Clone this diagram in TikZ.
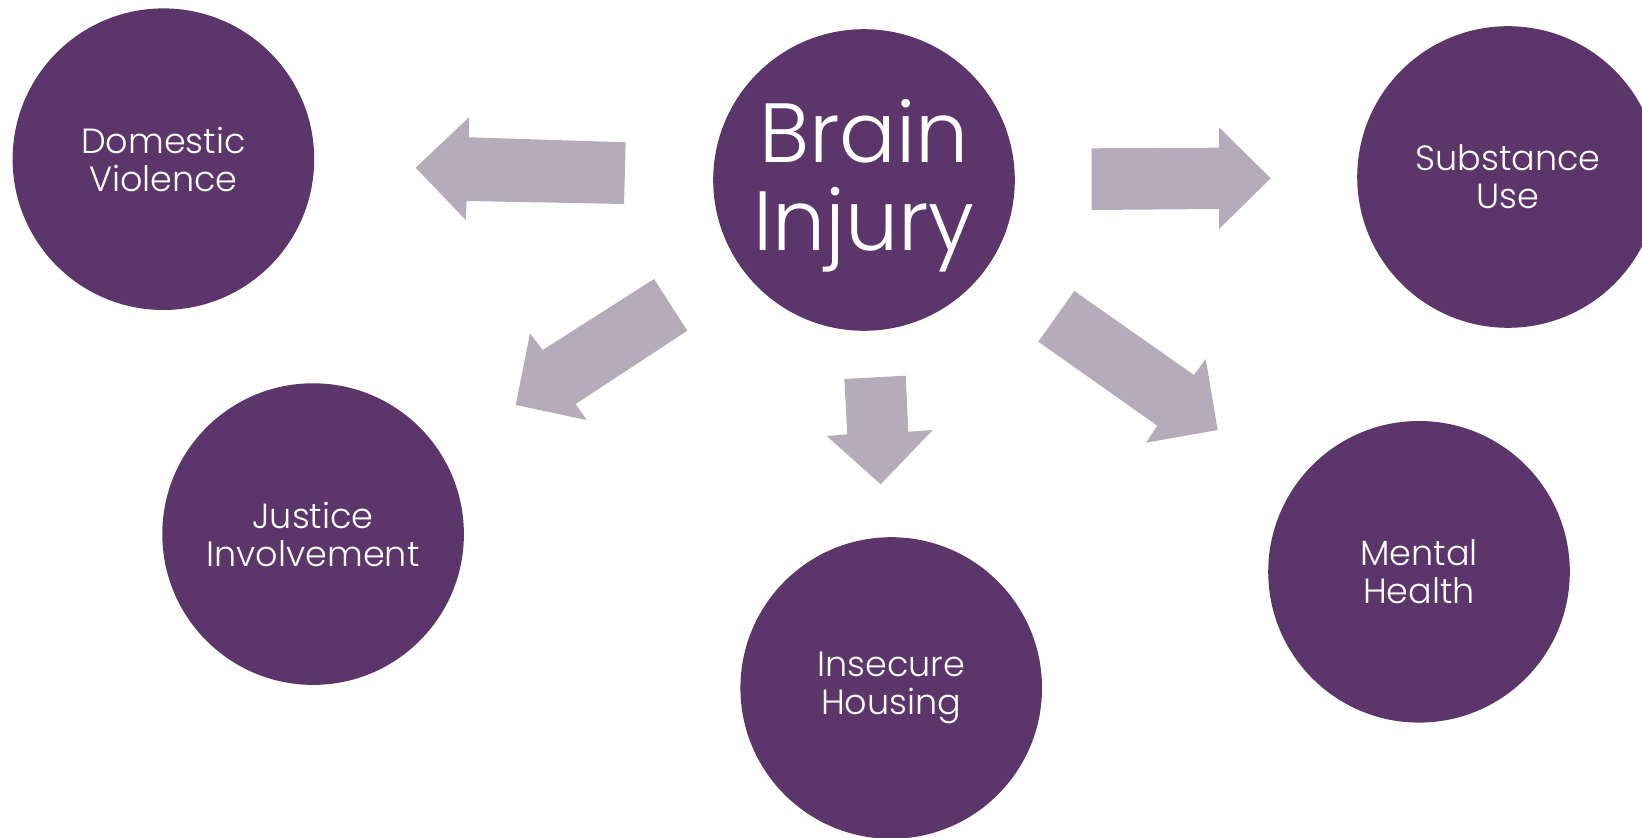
\documentclass[tikz,border=0pt]{standalone}
\usepackage{fontspec}
\setmainfont{Poppins}[UprightFont=* Light]
\definecolor{plum}{RGB}{92,54,107}
\definecolor{lilacgrey}{RGB}{180,172,186}
\begin{document}
\begin{tikzpicture}[x=0.5pt,y=-0.5pt,
  topic/.style={circle,fill=plum,minimum size=150.8pt,inner sep=0pt,
    text=white,align=center,font=\fontsize{17.5}{19}\selectfont},
  hubtext/.style={text=white,align=center,inner sep=0pt,
    font=\fontsize{42}{44}\selectfont},
  blockarrow/.style={fill=lilacgrey}]
\useasboundingbox (0,0) rectangle (1642,838);
\clip (0,0) rectangle (1642,838);

% central topic
\node[topic] (brain) at (864,180) {};
\node[hubtext,yshift=-3pt] (braintext) at (brain.center) {Brain\\Injury};

% outcome circles around the central topic
\node[topic] (dv)      at (163.4,159.2){Domestic\\Violence};
\node[topic] (subst)   at (1508,177)   {Substance\\Use};
\node[topic] (justice) at (313.1,534.1){Justice\\Involvement};
\node[topic] (housing) at (891.2,688)  {Insecure\\Housing};
\node[topic] (mental)  at (1419,571.8) {Mental\\Health};

% block arrows pointing outward from the centre
\fill[blockarrow] (625.7,142.3) -- (469,137.3) -- (469,117.3) -- (415.7,167.7)
  -- (465.7,220) -- (466.7,201) -- (624,204) -- cycle;
\fill[blockarrow] (1091.7,148.3) -- (1219,147.7) -- (1219,127.3) -- (1270.7,178.3)
  -- (1219,229) -- (1219,209) -- (1091.7,210) -- cycle;
\fill[blockarrow] (654,279) -- (542.7,350) -- (530,333.3) -- (515.7,405)
  -- (586.7,420) -- (575.7,404) -- (687.3,330.7) -- cycle;
\fill[blockarrow] (844.3,379) -- (847.3,434.3) -- (826.7,436) -- (880.7,484.3)
  -- (932.7,430) -- (908.3,431.7) -- (905.7,375.7) -- cycle;
\fill[blockarrow] (1074.3,291) -- (1194,375) -- (1205.7,359) -- (1217.7,430)
  -- (1146,442.7) -- (1157.3,425.7) -- (1038.3,341.7) -- cycle;
\end{tikzpicture}
\end{document}
